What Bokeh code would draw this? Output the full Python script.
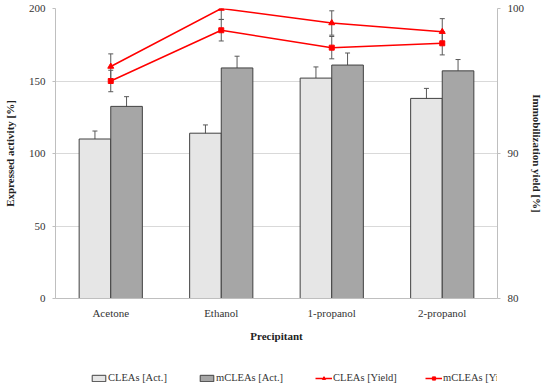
from bokeh.plotting import figure
from bokeh.models import (ColumnDataSource, FactorRange, Range1d, LinearAxis, Whisker,
                          TeeHead, Legend, LegendItem, FixedTicker)
from bokeh.layouts import column
from bokeh.transform import dodge
from bokeh.embed import file_html
from bokeh.resources import INLINE

cats = ["Acetone", "Ethanol", "1-propanol", "2-propanol"]
clea_act = [110, 114, 152, 138]
clea_act_err = [5.5, 5.7, 7.7, 6.9]
mclea_act = [132.5, 159, 161, 157]
mclea_act_err = [6.7, 8.1, 8.3, 7.8]
clea_yield = [96.0, 100.0, 99.0, 98.4]
clea_yield_err = [0.87, 0.75, 0.84, 0.9]
mclea_yield = [95.0, 98.5, 97.3, 97.6]
mclea_yield_err = [0.74, 0.74, 0.77, 0.8]
left_ticks = [0, 50, 100, 150, 200]
right_ticks = [80, 90, 100]
legend_labels = ["CLEAs [Act.]", "mCLEAs [Act.]", "CLEAs [Yield]", "mCLEAs [Yield]"]

FONT = "Liberation Serif"
TXT = "#333333"
RED = "#ff0000"
LIGHT = "#e6e6e6"
DARK = "#a6a6a6"
AXC = "#bfbfbf"

src = ColumnDataSource(dict(
    cat=cats,
    ca=clea_act, ca_lo=[v - e for v, e in zip(clea_act, clea_act_err)],
    ca_hi=[v + e for v, e in zip(clea_act, clea_act_err)],
    ma=mclea_act, ma_lo=[v - e for v, e in zip(mclea_act, mclea_act_err)],
    ma_hi=[v + e for v, e in zip(mclea_act, mclea_act_err)],
    cy=clea_yield, cy_lo=[v - e for v, e in zip(clea_yield, clea_yield_err)],
    cy_hi=[v + e for v, e in zip(clea_yield, clea_yield_err)],
    my=mclea_yield, my_lo=[v - e for v, e in zip(mclea_yield, mclea_yield_err)],
    my_hi=[v + e for v, e in zip(mclea_yield, mclea_yield_err)],
))

p = figure(width=546, height=350, x_range=FactorRange(*cats, range_padding=0),
           y_range=Range1d(0, 200), output_backend="svg", toolbar_location=None,
           min_border_left=55, min_border_right=43, min_border_top=8, min_border_bottom=52)
p.extra_y_ranges = {"yield": Range1d(80, 100)}
p.outline_line_color = None
p.xgrid.grid_line_color = None
p.ygrid.grid_line_color = "#d9d9d9"
p.ygrid.ticker = FixedTicker(ticks=left_ticks)

W = 0.286
OFF = 0.143
p.vbar(x=dodge("cat", -OFF, range=p.x_range), top="ca", width=W, source=src,
       fill_color=LIGHT, line_color="#404040", line_width=1)
p.vbar(x=dodge("cat", OFF, range=p.x_range), top="ma", width=W, source=src,
       fill_color=DARK, line_color="#404040", line_width=1)

def whisk(base, lo, hi, yname="default"):
    w = Whisker(base=base, lower=lo, upper=hi, source=src, line_color="#595959", line_width=1,
                upper_head=TeeHead(size=5, line_color="#595959", line_width=1),
                lower_head=TeeHead(size=5, line_color="#595959", line_width=1),
                y_range_name=yname)
    p.add_layout(w)

whisk(dodge("cat", -OFF, range=p.x_range), "ca_lo", "ca_hi")
whisk(dodge("cat", OFF, range=p.x_range), "ma_lo", "ma_hi")

p.line(x="cat", y="cy", source=src, y_range_name="yield", line_color=RED, line_width=1.5)
p.scatter(x="cat", y="cy", source=src, y_range_name="yield", marker="triangle", size=6,
          fill_color=RED, line_color=RED)
p.line(x="cat", y="my", source=src, y_range_name="yield", line_color=RED, line_width=1.5)
p.scatter(x="cat", y="my", source=src, y_range_name="yield", marker="square", size=5,
          fill_color=RED, line_color=RED)
whisk("cat", "cy_lo", "cy_hi", "yield")
whisk("cat", "my_lo", "my_hi", "yield")

ax = p.yaxis[0]
ax.ticker = FixedTicker(ticks=left_ticks)
ax.axis_label = "Expressed activity [%]"
ax.axis_label_standoff = 10

ry = LinearAxis(y_range_name="yield", ticker=FixedTicker(ticks=right_ticks),
                axis_label="Immobilization yield [%]")
p.add_layout(ry, "right")

xa = p.xaxis[0]
xa.axis_label = "Precipitant"

for a in [ax, ry, xa]:
    a.axis_line_color = AXC
    a.major_tick_line_color = AXC
    a.major_tick_out = 3
    a.major_tick_in = 0
    a.minor_tick_line_color = None
    a.major_label_text_font = FONT
    a.major_label_text_font_size = "11px"
    a.major_label_text_color = TXT
    a.axis_label_text_font = FONT
    a.axis_label_text_font_size = "11px"
    a.axis_label_text_font_style = "bold"
    a.axis_label_text_color = "#222222"
ax.major_label_standoff = 7
ry.major_label_standoff = 7
ry.axis_label_standoff = 4
xa.major_tick_line_color = None
xa.major_label_standoff = 5
xa.axis_label_standoff = 8

# legend strip below the chart
lp = figure(width=546, height=34, x_range=Range1d(0, 1), y_range=Range1d(0, 1),
            output_backend="svg", toolbar_location=None, x_axis_location=None,
            y_axis_location=None, min_border_left=55, min_border_right=43,
            min_border_top=0, min_border_bottom=0)
lp.grid.visible = False
lp.outline_line_color = None
ghost = dict(x=[-5], y=[-5])
g1 = lp.vbar(x="x", top="y", width=0.1, source=ColumnDataSource(ghost),
             fill_color=LIGHT, line_color="#404040")
g2 = lp.vbar(x="x", top="y", width=0.1, source=ColumnDataSource(ghost),
             fill_color=DARK, line_color="#404040")
g3 = lp.line(x="x", y="y", source=ColumnDataSource(ghost), line_color=RED, line_width=1.5)
g3m = lp.scatter(x="x", y="y", source=ColumnDataSource(ghost), marker="triangle", size=5,
                 fill_color=RED, line_color=RED)
g4 = lp.line(x="x", y="y", source=ColumnDataSource(ghost), line_color=RED, line_width=1.5)
g4m = lp.scatter(x="x", y="y", source=ColumnDataSource(ghost), marker="square", size=4,
                 fill_color=RED, line_color=RED)

for label, rends, vx in [(legend_labels[0], [g1], 35), (legend_labels[1], [g2], 143),
                         (legend_labels[2], [g3, g3m], 260), (legend_labels[3], [g4, g4m], 370)]:
    lg = Legend(items=[LegendItem(label=label, renderers=rends)], location=(vx, 1),
                orientation="horizontal", padding=0, margin=0, border_line_color=None,
                background_fill_alpha=0, glyph_width=17, glyph_height=8, label_height=10,
                label_standoff=1, label_text_font=FONT, label_text_font_size="10.5px",
                label_text_color=TXT)
    lp.add_layout(lg)

open("out.html", "w").write(file_html(column(p, lp, spacing=0), INLINE))
